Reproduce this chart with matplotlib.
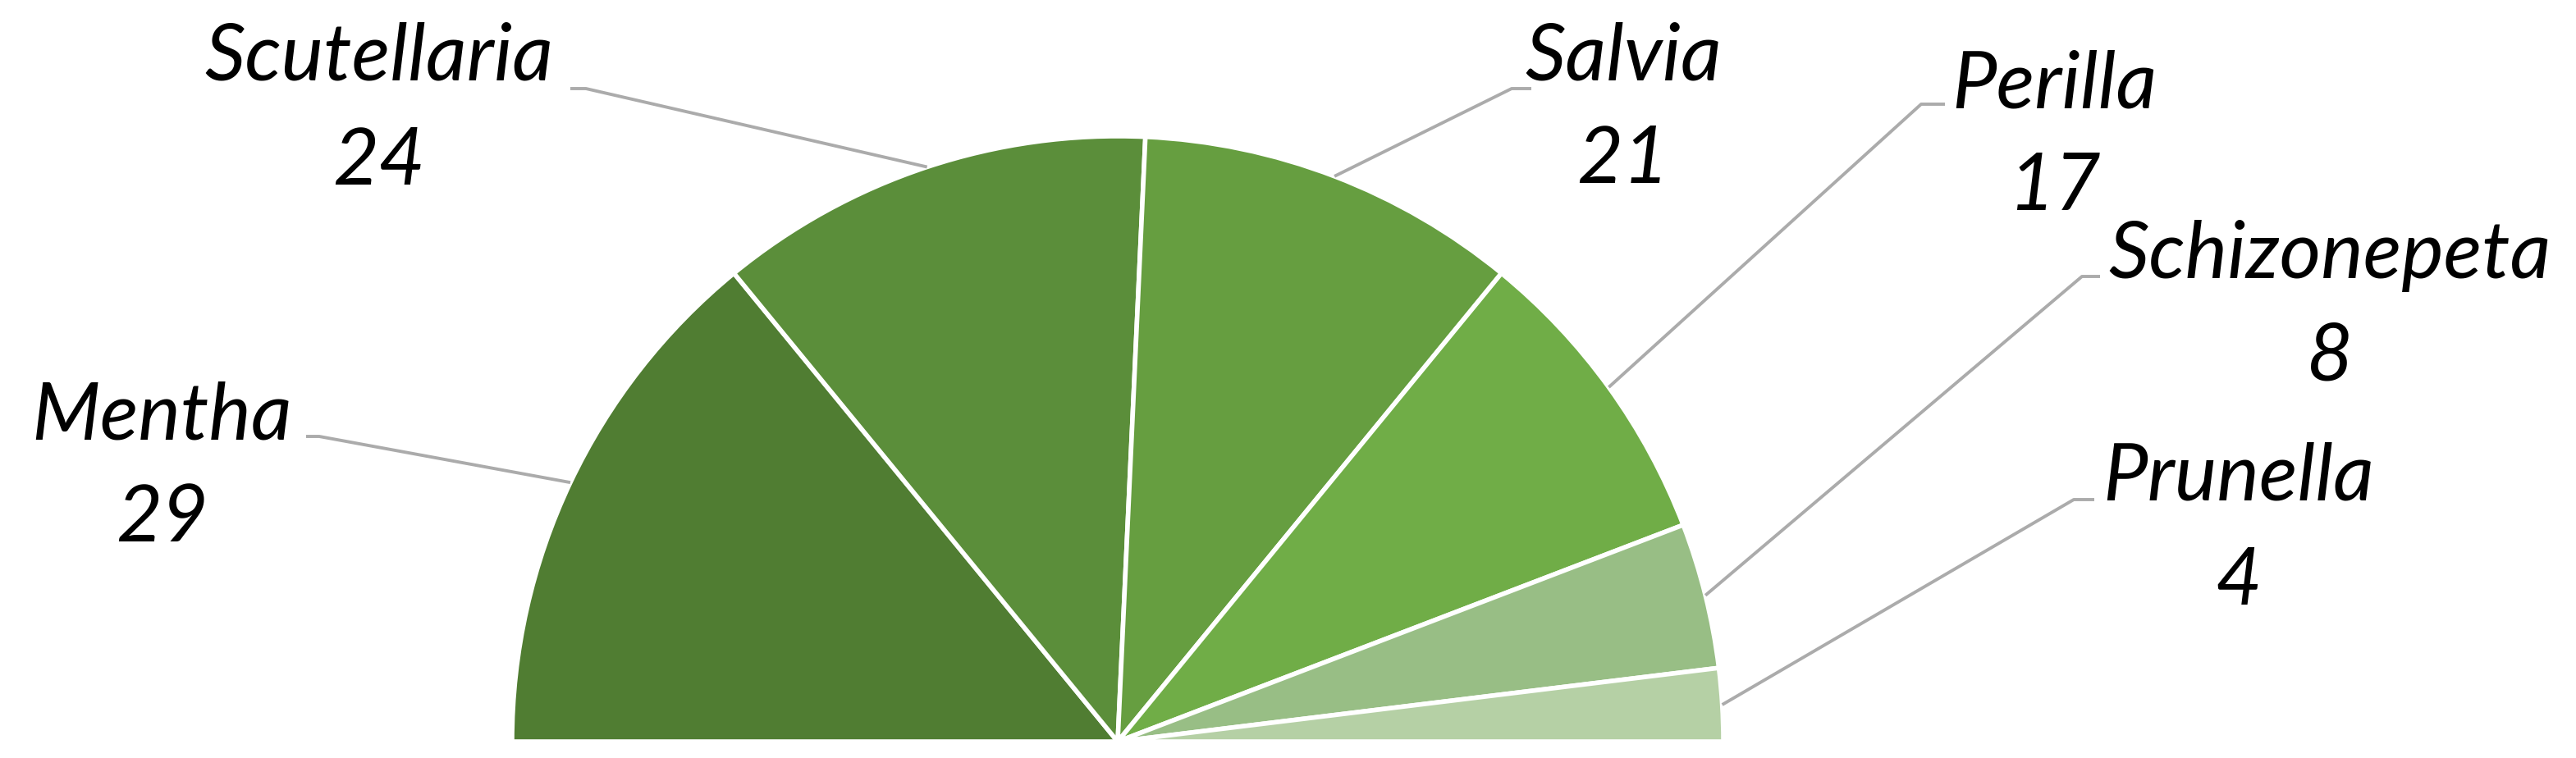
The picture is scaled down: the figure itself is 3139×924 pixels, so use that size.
import numpy as np
import matplotlib.pyplot as plt

# Data
genera = ['Mentha', 'Scutellaria', 'Salvia', 'Perilla', 'Schizonepeta', 'Prunella']
counts = [29, 24, 21, 17, 8, 4]
colors = ['#507D32', '#5B8E3A', '#669E40', '#70AD47', '#98BE85', '#B5D0A5']

# Layout in pixels (y measured from top of image)
W, H = 3139, 924
cx, cy, radius = 1362, 904, 738
# label centre x, name baseline, value baseline, elbow (x, y), text-side x
label_pos = [
    (197, 535, 660, (389, 532), 373),
    (462, 97, 225, (714, 108), 695),
    (1978, 97, 223, (1842, 108), 1866),
    (2503, 131, 256, (2341, 127), 2370),
    (2839, 339, 463, (2537, 337), 2559),
    (2728, 610, 737, (2527, 609), 2552),
]

fig = plt.figure(figsize=(W / 100, H / 100), dpi=100)
ax = fig.add_axes([0, 0, 1, 1])

# half pie: hidden slice takes the lower half
vals = counts + [sum(counts)]
wedges, _ = ax.pie(vals, colors=colors + ['white'], startangle=180, counterclock=False,
                   center=(cx, H - cy), radius=radius,
                   wedgeprops=dict(edgecolor='white', linewidth=4))
wedges[-1].set_visible(False)

ax.set_xlim(0, W)
ax.set_ylim(0, H)
ax.set_aspect('equal')
ax.axis('off')

font = dict(family='Lato', style='italic', fontsize=70, color='black')
for w, name, n, (lx, yb1, yb2, (ex, ey), tx) in zip(wedges, genera, counts, label_pos):
    mid = np.deg2rad((w.theta1 + w.theta2) / 2)
    px = cx + radius * np.cos(mid)
    py = (H - cy) + radius * np.sin(mid)
    ax.plot([px, ex, tx], [py, H - ey, H - ey], color='#ABABAB', lw=2.8,
            solid_capstyle='butt', zorder=1)
    ax.text(lx, H - yb1, name, ha='center', va='baseline', **font)
    ax.text(lx, H - yb2, str(n), ha='center', va='baseline', **font)

fig.savefig('out.png', dpi=100)
